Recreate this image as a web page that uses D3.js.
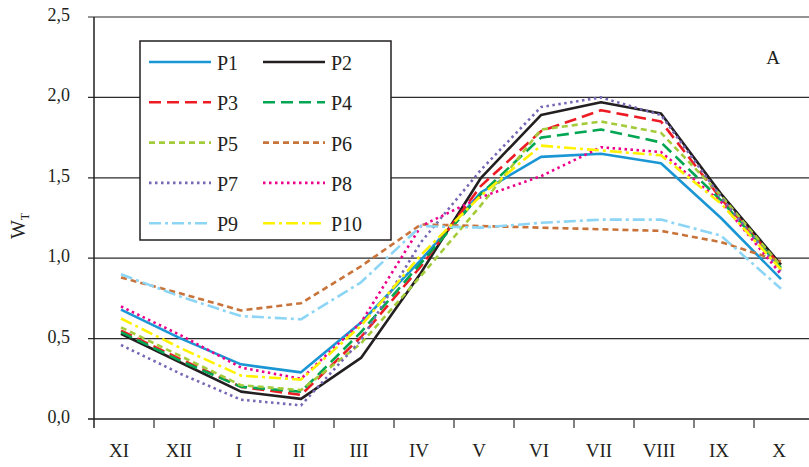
<!DOCTYPE html>
<html>
<head>
<meta charset="utf-8">
<script src="https://cdn.jsdelivr.net/npm/d3@7"></script>
<style>
  body { margin: 0; background: #fff; }
  svg text { font-family: "Times New Roman", "Liberation Serif", Tinos, serif; fill: #231f20; }
</style>
</head>
<body>
<svg id="chart"></svg>
<script>
// months (roman numerals), hydrological year starting in November
const months = ['XI', 'XII', 'I', 'II', 'III', 'IV', 'V', 'VI', 'VII', 'VIII', 'IX', 'X']
const yTicks = [0, 0.5, 1.0, 1.5, 2.0, 2.5]

// W_T values
const P1 = [0.68, 0.50, 0.34, 0.29, 0.60, 0.99, 1.41, 1.63, 1.65, 1.59, 1.25, 0.87]
const P2 = [0.53, 0.35, 0.17, 0.125, 0.38, 0.91, 1.50, 1.89, 1.97, 1.90, 1.40, 0.96]
const P3 = [0.55, 0.37, 0.20, 0.15, 0.51, 0.95, 1.45, 1.79, 1.92, 1.85, 1.37, 0.95]
const P4 = [0.54, 0.36, 0.20, 0.17, 0.54, 0.97, 1.40, 1.75, 1.80, 1.72, 1.36, 0.94]
const P5 = [0.57, 0.39, 0.21, 0.18, 0.47, 0.89, 1.33, 1.80, 1.85, 1.78, 1.39, 0.95]
const P6 = [0.88, 0.78, 0.675, 0.72, 0.95, 1.21, 1.20, 1.19, 1.18, 1.17, 1.10, 0.98]
const P7 = [0.46, 0.28, 0.12, 0.085, 0.49, 1.10, 1.55, 1.94, 2.00, 1.89, 1.38, 0.92]
const P8 = [0.70, 0.52, 0.32, 0.25, 0.60, 1.20, 1.38, 1.51, 1.69, 1.66, 1.35, 0.90]
const P9 = [0.90, 0.76, 0.64, 0.62, 0.85, 1.20, 1.19, 1.22, 1.24, 1.24, 1.14, 0.81]
const P10 = [0.625, 0.44, 0.27, 0.245, 0.58, 1.02, 1.39, 1.70, 1.67, 1.64, 1.34, 0.93]

const seriesNames = ['P1', 'P2', 'P3', 'P4', 'P5', 'P6', 'P7', 'P8', 'P9', 'P10']
const seriesValues = [P1, P2, P3, P4, P5, P6, P7, P8, P9, P10]

// line styles
const colors = ['#1b96d4', '#231f20', '#ed1c24', '#00a651', '#a4cc3a', '#c8733a', '#7767b5', '#ec008c', '#8dd5f5', '#fff200']
const dashes = [null, null, '12,6', '12,6', '6,4', '6,4', '2.5,3.5', '2.5,3.5', '12,4,3,4', '12,4,3,4']

const width = 809
const height = 467
const margin = { top: 17, right: 0, bottom: 48, left: 94 }
const serif = '"Times New Roman", "Liberation Serif", Tinos, serif'

const svg = d3.select('#chart')
  .attr('width', width)
  .attr('height', height)
  .attr('font-family', serif)

const x = d3.scaleBand()
  .domain(months)
  .range([margin.left, margin.left + 12 * 60])

const y = d3.scaleLinear()
  .domain([0, 2.5])
  .range([height - margin.bottom, margin.top])

// horizontal grid lines (the 0 line is the x axis)
svg.append('g')
  .selectAll('line')
  .data(yTicks.filter(d => d > 0))
  .join('line')
  .attr('x1', margin.left - 6)
  .attr('x2', width)
  .attr('y1', d => y(d))
  .attr('y2', d => y(d))
  .attr('stroke', '#2b2b2b')
  .attr('stroke-width', 1.2)

// y tick labels
svg.append('g')
  .selectAll('text')
  .data(yTicks)
  .join('text')
  .attr('x', 70)
  .attr('y', d => y(d) + 4)
  .attr('text-anchor', 'end')
  .attr('font-size', 18)
  .text(d => d3.format('.1f')(d).replace('.', ','))

// x axis line + ticks between months
const xAxisY = y(0)
svg.append('line')
  .attr('x1', margin.left - 6)
  .attr('x2', width)
  .attr('y1', xAxisY)
  .attr('y2', xAxisY)
  .attr('stroke', '#555')
  .attr('stroke-width', 1.8)

svg.append('g')
  .selectAll('line')
  .data(months.slice(1))
  .join('line')
  .attr('x1', d => x(d))
  .attr('x2', d => x(d))
  .attr('y1', xAxisY)
  .attr('y2', xAxisY + 9)
  .attr('stroke', '#555')
  .attr('stroke-width', 1.5)

svg.append('g')
  .selectAll('text')
  .data(months)
  .join('text')
  .attr('x', d => x(d) + x.bandwidth() / 2 - 5)
  .attr('y', 457)
  .attr('text-anchor', 'middle')
  .attr('font-size', 19)
  .text(d => d)

// y axis line
svg.append('line')
  .attr('x1', margin.left)
  .attr('x2', margin.left)
  .attr('y1', margin.top)
  .attr('y2', xAxisY + 9)
  .attr('stroke', '#231f20')
  .attr('stroke-width', 1.5)

// axis title W_T
const yTitle = svg.append('text')
  .attr('transform', 'translate(25, 226) rotate(-90)')
  .attr('text-anchor', 'middle')
  .attr('font-size', 20)
yTitle.append('tspan').text('W')
yTitle.append('tspan').attr('font-size', 12).attr('dy', 4).text('T')

svg.append('text')
  .attr('x', 773)
  .attr('y', 64)
  .attr('text-anchor', 'middle')
  .attr('font-size', 19)
  .text('A')

// series lines
const line = d3.line()
  .x((d, i) => x(months[i]) + x.bandwidth() / 2 - 3)
  .y(d => y(d))

svg.append('g')
  .selectAll('path')
  .data(seriesValues)
  .join('path')
  .attr('d', line)
  .attr('fill', 'none')
  .attr('stroke', (d, i) => colors[i])
  .attr('stroke-width', 2.6)
  .attr('stroke-dasharray', (d, i) => dashes[i])
  .attr('stroke-linejoin', 'round')

// legend
const legend = svg.append('g')
legend.append('rect')
  .attr('x', 140)
  .attr('y', 41)
  .attr('width', 251)
  .attr('height', 199)
  .attr('fill', '#fff')
  .attr('stroke', '#231f20')
  .attr('stroke-width', 1.5)

const items = legend.selectAll('g')
  .data(seriesNames)
  .join('g')
  .attr('transform', (d, i) => `translate(${i % 2 === 0 ? 149 : 263}, ${62 + Math.floor(i / 2) * 40.3})`)

items.append('line')
  .attr('x1', 0)
  .attr('x2', 62)
  .attr('stroke', (d, i) => colors[i])
  .attr('stroke-width', 2.6)
  .attr('stroke-dasharray', (d, i) => dashes[i])

items.append('text')
  .attr('x', 68)
  .attr('y', 8)
  .attr('font-size', 20)
  .text(d => d)
</script>
</body>
</html>
